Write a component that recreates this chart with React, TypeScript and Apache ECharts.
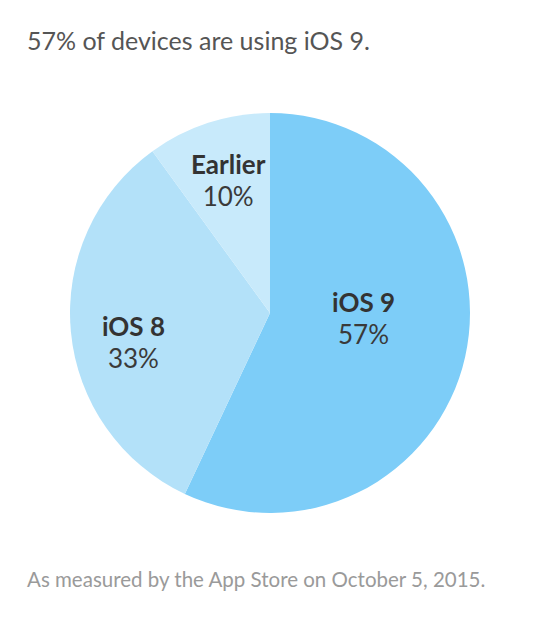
import React, { useEffect, useRef } from "react";
import * as echarts from "echarts";

const versions = ["iOS 9", "iOS 8", "Earlier"];
const shares = [57, 33, 10];
const sliceColors = ["#7dcdf8", "#b3e1f9", "#c8eafb"];
// label nudges from the default "inside" spot
const labelShift = [
  [-7, -17],
  [-34, 19],
  [-10, -35],
];

const FONT = "Lato, 'Open Sans', sans-serif";

const App = () => {
  const chartRef = useRef<HTMLDivElement>(null);

  useEffect(() => {
    const dom = chartRef.current;
    if (!dom) return;
    const chart = echarts.init(dom, null, { renderer: "svg" });

    chart.setOption({
      animation: false,
      backgroundColor: "#ffffff",
      title: [
        {
          text: "57% of devices are using iOS 9.",
          left: 22,
          top: 22,
          textStyle: { color: "#555555", fontSize: 25, fontWeight: "normal", fontFamily: FONT },
        },
        {
          text: "As measured by the App Store on October 5, 2015.",
          left: 22,
          top: 563,
          textStyle: { color: "#9a9a9a", fontSize: 20.5, fontWeight: "normal", fontFamily: FONT },
        },
      ],
      series: [
        {
          type: "pie",
          center: [270, 313],
          radius: [0, 200],
          startAngle: 90,
          clockwise: true,
          silent: true,
          itemStyle: { borderWidth: 0 },
          label: {
            show: true,
            position: "inside",
            formatter: "{n|{b}}\n{p|{c}%}",
            rich: {
              n: { fontSize: 26, fontWeight: "bold", color: "#333333", fontFamily: FONT, lineHeight: 32 },
              p: { fontSize: 26, color: "#3a3a3a", fontFamily: FONT, lineHeight: 32 },
            },
          },
          labelLayout: (params: any) => ({
            dx: labelShift[params.dataIndex][0],
            dy: labelShift[params.dataIndex][1],
          }),
          data: versions.map((name, i) => ({
            name,
            value: shares[i],
            itemStyle: { color: sliceColors[i] },
          })),
        },
      ],
    });

    return () => {
      chart.dispose();
    };
  }, []);

  return (
    <div
      ref={chartRef}
      style={{ position: "fixed", left: 0, top: 0, width: 540, height: 620 }}
    ></div>
  );
};

export default App;
